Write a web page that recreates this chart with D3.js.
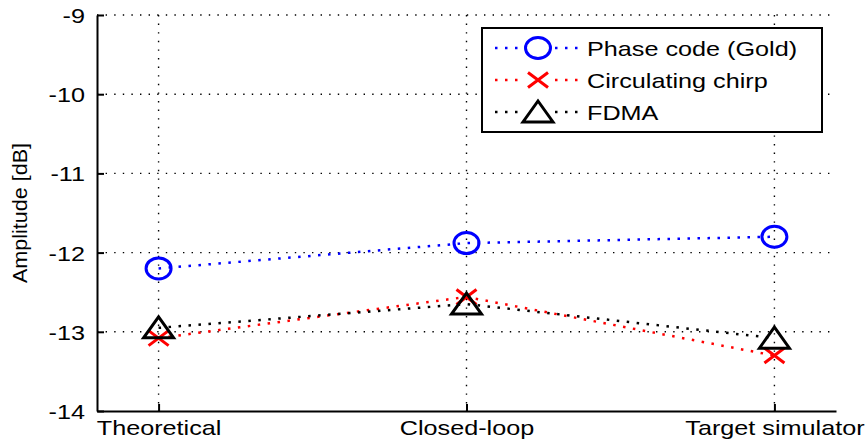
<!DOCTYPE html>
<html>
<head>
<meta charset="utf-8">
<script src="https://cdn.jsdelivr.net/npm/d3@7"></script>
<style>
  body { margin: 0; background: #fff; }
  svg { display: block; font-family: "Liberation Sans", Arial, sans-serif; }
</style>
</head>
<body>
<svg id="chart" width="868" height="446"></svg>
<script>
const categories = ["Theoretical", "Closed-loop", "Target simulator"];
const phaseCode = [-12.2, -11.88, -11.8];
const circChirp = [-13.08, -12.56, -13.3];
const fdma = [-12.95, -12.65, -13.08];
const yTicks = [-14, -13, -12, -11, -10, -9];

const series = [
  { name: "Phase code (Gold)", values: phaseCode, color: "#0000ff", marker: "circle" },
  { name: "Circulating chirp", values: circChirp, color: "#ff0000", marker: "cross" },
  { name: "FDMA", values: fdma, color: "#000000", marker: "triangle" }
];

const svg = d3.select("#chart");
const margin = { top: 15, right: 32, bottom: 35, left: 97 };
const width = +svg.attr("width");
const height = +svg.attr("height");
const stretch = 1.2; // the reference text looks horizontally widened

function widen(sel) {
  sel.each(function () {
    const w = this.getComputedTextLength();
    d3.select(this).attr("textLength", w * stretch).attr("lengthAdjust", "spacingAndGlyphs");
  });
}

const x = d3.scaleLinear().domain([0.8, 3.2]).range([margin.left, width - margin.right]);
const y = d3.scaleLinear().domain([-14, -9]).range([height - margin.bottom, margin.top]);

// grid
const grid = svg.append("g").attr("stroke", "#000").attr("stroke-width", 1.4)
  .attr("stroke-dasharray", "1.4,7.2");
grid.selectAll("line.h").data(yTicks.slice(1)).enter().append("line")
  .attr("x1", margin.left).attr("x2", width - margin.right)
  .attr("y1", d => y(d)).attr("y2", d => y(d));
grid.selectAll("line.v").data(categories).enter().append("line")
  .attr("x1", (d, i) => x(i + 1)).attr("x2", (d, i) => x(i + 1))
  .attr("y1", margin.top).attr("y2", height - margin.bottom);

// axes
const xAxis = svg.append("g")
  .attr("transform", `translate(0,${height - margin.bottom})`)
  .call(d3.axisBottom(x).tickValues([1, 2, 3]).tickFormat((d, i) => categories[i])
    .tickSizeInner(-7).tickSizeOuter(0).tickPadding(9));
const yAxis = svg.append("g")
  .attr("transform", `translate(${margin.left},0)`)
  .call(d3.axisLeft(y).tickValues(yTicks).tickFormat(d => String(d))
    .tickSizeInner(-7).tickSizeOuter(0).tickPadding(12));
[xAxis, yAxis].forEach(a => {
  a.select(".domain").attr("stroke", "#000").attr("stroke-width", 2);
  a.selectAll(".tick line").attr("stroke", "#000").attr("stroke-width", 2);
  a.selectAll("text").attr("fill", "#000").style("font-size", "21px");
});
yAxis.selectAll("text").attr("dy", "0.36em");
xAxis.selectAll("text").attr("dy", "0.72em");
widen(xAxis.selectAll("text"));
widen(yAxis.selectAll("text"));

svg.append("text")
  .attr("transform", `translate(27,${(margin.top + height - margin.bottom) / 2}) rotate(-90)`)
  .attr("text-anchor", "middle")
  .style("font-size", "20px")
  .attr("textLength", 140).attr("lengthAdjust", "spacingAndGlyphs")
  .text("Amplitude [dB]");

function drawMarker(g, type, color) {
  if (type === "circle") {
    g.append("ellipse").attr("rx", 12.5).attr("ry", 10.5).attr("fill", "none")
      .attr("stroke", color).attr("stroke-width", 3);
  } else if (type === "cross") {
    g.append("path").attr("d", "M-10,-7.5L10,7.5M-10,7.5L10,-7.5").attr("stroke", color).attr("stroke-width", 3);
  } else {
    g.append("path").attr("d", "M0,-11L15,10L-15,10Z").attr("fill", "none")
      .attr("stroke", color).attr("stroke-width", 3).attr("stroke-linejoin", "miter");
  }
}

const line = d3.line().x((d, i) => x(i + 1)).y(d => y(d));

series.forEach(s => {
  svg.append("path").datum(s.values)
    .attr("d", line).attr("fill", "none")
    .attr("stroke", s.color).attr("stroke-width", 2.5)
    .attr("stroke-dasharray", "2.5,7.5");
  s.values.forEach((v, i) => {
    const g = svg.append("g").attr("transform", `translate(${x(i + 1)},${y(v)})`);
    drawMarker(g, s.marker, s.color);
  });
});

// legend
const legend = svg.append("g").attr("transform", "translate(482,28)");
legend.append("rect").attr("width", 340).attr("height", 104)
  .attr("fill", "#fff").attr("stroke", "#000").attr("stroke-width", 2);
series.forEach((s, i) => {
  const cy = 20 + i * 32;
  legend.append("line").attr("x1", 13).attr("x2", 98).attr("y1", cy).attr("y2", cy)
    .attr("stroke", s.color).attr("stroke-width", 2.5).attr("stroke-dasharray", "2.5,7.5");
  const g = legend.append("g").attr("transform", `translate(56,${cy})`);
  g.append("rect").attr("x", -17).attr("y", -13).attr("width", 34).attr("height", 26).attr("fill", "#fff");
  drawMarker(g, s.marker, s.color);
  legend.append("text").attr("x", 105).attr("y", cy).attr("dy", "0.36em")
    .style("font-size", "21px").text(s.name);
});
widen(legend.selectAll("text"));
</script>
</body>
</html>
